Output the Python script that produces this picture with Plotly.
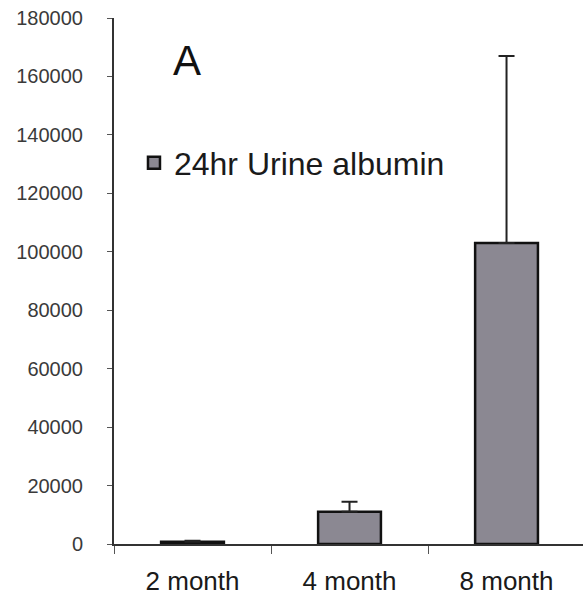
import plotly.graph_objects as go

categories = ["2 month", "4 month", "8 month"]
albumin = [800, 11000, 103000]
albumin_err = [300, 3500, 64000]
y_ticks = [0, 20000, 40000, 60000, 80000, 100000, 120000, 140000, 160000, 180000]
series_name = "24hr Urine albumin"
panel_label = "A"

FONT = "Liberation Sans, Arial, sans-serif"

fig = go.Figure()
fig.add_trace(go.Bar(
    x=categories,
    y=albumin,
    name=series_name,
    marker=dict(color="#8b8892", line=dict(color="#111111", width=2.5)),
    error_y=dict(type="data", symmetric=False, array=albumin_err,
                 arrayminus=[0] * len(albumin_err),
                 color="#222222", thickness=2, width=8),
    showlegend=True,
))

fig.add_annotation(text=panel_label, xref="paper", yref="paper",
                   x=0.1215, y=0.967, showarrow=False,
                   font=dict(family=FONT, size=42, color="#111111"))

fig.update_layout(
    width=583, height=604,
    margin=dict(l=114, r=0, t=18, b=60),
    paper_bgcolor="white", plot_bgcolor="white",
    bargap=0.6,
    showlegend=True,
    legend=dict(x=0.0426, y=0.7243, xanchor="left", yanchor="middle",
                font=dict(family=FONT, size=32, color="#1a1a1a"),
                bgcolor="rgba(0,0,0,0)"),
    font=dict(family=FONT),
)
fig.update_xaxes(
    type="category", range=[-0.5, 2.487],
    showline=True, linecolor="#333333", linewidth=1.5,
    ticks="outside", tickson="boundaries", ticklen=8, tickcolor="#555555",
    tickfont=dict(family=FONT, size=26, color="#1a1a1a"),
    ticklabelstandoff=13,
    showgrid=False, zeroline=False,
)
fig.update_yaxes(
    range=[0, 180000], tickvals=y_ticks, ticktext=[str(v) for v in y_ticks],
    showline=True, linecolor="#333333", linewidth=2,
    ticks="outside", ticklen=5, tickcolor="#555555",
    tickfont=dict(family=FONT, size=20, color="#3a3a3a"),
    ticklabelstandoff=20,
    showgrid=False, zeroline=False,
)

fig.write_html("out.html")
